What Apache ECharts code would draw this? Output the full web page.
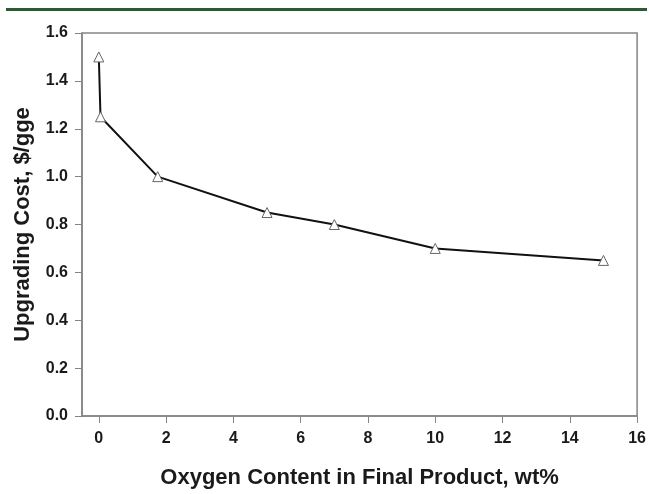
<!DOCTYPE html>
<html><head><meta charset="utf-8">
<script src="https://cdn.jsdelivr.net/npm/echarts@6/dist/echarts.min.js"></script>
<style>html,body{margin:0;padding:0;background:#fff}#c{width:649px;height:494px}</style>
</head><body><div id="c"></div>
<script>
const oxygen = [0, 0.05, 1.75, 5, 7, 10, 15];
const cost = [1.5, 1.25, 1.0, 0.85, 0.8, 0.7, 0.65];
const xTicks = [0, 2, 4, 6, 8, 10, 12, 14, 16];
const xTitle = 'Oxygen Content in Final Product, wt%';
const yTitle = 'Upgrading Cost, $/gge';

const chart = echarts.init(document.getElementById('c'));
const font = 'Liberation Sans, Arial, sans-serif';
const axisGray = '#858585';
chart.setOption({
  animation: false,
  graphic: [{type:'rect', left: 6, top: 8, shape:{width: 641, height: 3}, style:{fill:'#2b5b30'}}],
  grid: {left: 82, right: 10, top: 33, bottom: 70, show: true, borderColor: axisGray, borderWidth: 1.5, backgroundColor:'transparent'},
  xAxis: {
    type: 'value', min: -0.5, max: 16,
    name: xTitle, nameLocation: 'middle', nameGap: 51,
    nameTextStyle: {fontFamily: font, fontWeight: 'bold', fontSize: 22, color: '#1a1a1a'},
    axisLine: {show: true, onZero: false, lineStyle: {color: axisGray, width: 1.5}},
    axisTick: {show: true, customValues: xTicks, length: 7, lineStyle: {color: axisGray}},
    axisLabel: {customValues: xTicks, fontFamily: font, fontWeight: 'bold', fontSize: 16, color: '#1a1a1a', margin: 15},
    splitLine: {show: false}
  },
  yAxis: {
    type: 'value', min: 0, max: 1.6, interval: 0.2,
    name: yTitle, nameLocation: 'middle', nameGap: 48, nameRotate: 90,
    nameTextStyle: {fontFamily: font, fontWeight: 'bold', fontSize: 22, color: '#1a1a1a'},
    axisLine: {show: true, onZero: false, lineStyle: {color: axisGray, width: 1.5}},
    axisTick: {show: true, length: 7, lineStyle: {color: axisGray}},
    axisLabel: {fontFamily: font, fontWeight: 'bold', fontSize: 16, color: '#1a1a1a', margin: 14,
      formatter: v => v.toFixed(1)},
    splitLine: {show: false}
  },
  series: [{
    type: 'line',
    data: oxygen.map((x, i) => [x, cost[i]]),
    symbol: 'triangle', symbolSize: 10,
    itemStyle: {color: '#fff', borderColor: '#666', borderWidth: 1},
    lineStyle: {color: '#111', width: 2},
    z: 3
  }]
});
</script></body></html>
